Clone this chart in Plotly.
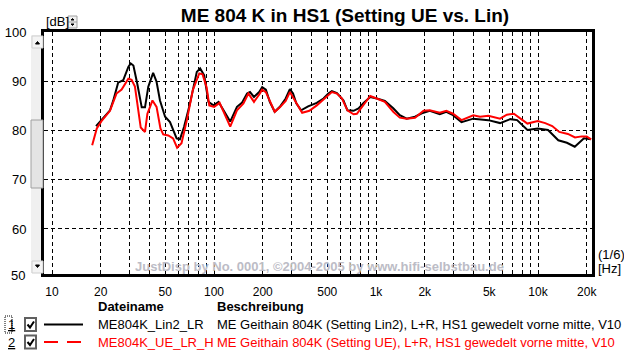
import plotly.graph_objects as go

# ---------------- data ----------------
black_freq = [18.7, 20.2, 22.8, 23.9, 25.6, 27.5, 29.6, 30.6, 31.8, 33.6, 35.8, 37.5, 39.3, 42.1, 44.2,
              46.4, 49.9, 53.5, 58.8, 61.6, 65.3, 71.1, 78.3, 82.1, 87.0, 92.4, 99.3, 106.7, 114.5,
              125.9, 138.6, 148.6, 160, 166.8, 176.5, 190.1, 198.3, 209, 221, 237, 255, 277, 294,
              307.5, 322, 345, 381, 431, 474, 508, 534, 574, 630, 666, 727, 780, 838, 921, 1011,
              1134, 1278, 1403, 1545, 1741, 1918, 2148, 2476, 2717, 2988, 3370, 3987, 4385, 4936,
              5832, 6749, 7432, 8602, 9959, 11528, 13343, 15077, 16860, 19220, 21200]
black_db = [80.9, 82.1, 84.1, 86.1, 89.7, 90.2, 92.9, 93.6, 93.2, 89.5, 84.7, 84.7, 88.9, 91.7, 89.9,
            86.1, 82.8, 81.7, 78.4, 78.2, 80.7, 85.5, 91.9, 92.6, 91.2, 85.8, 85.1, 85.8, 84.1,
            81.8, 84.8, 85.6, 87.5, 87.8, 86.8, 87.8, 88.8, 88.3, 85.8, 83.8, 84.8, 86.5, 88.4,
            87.5, 85.5, 84.1, 84.9, 85.6, 86.5, 87.5, 88.0, 87.6, 86.1, 84.1, 84.0, 84.5, 85.6, 86.8, 86.5,
            86.0, 84.5, 83.1, 82.4, 82.8, 83.5, 84.0, 83.3, 83.8, 83.1, 81.7, 82.4, 82.2, 82.1,
            81.5, 82.3, 82.1, 80.1, 80.4, 80.1, 78.0, 77.5, 76.7, 78.4, 78.2]

red_freq = [17.7, 18.9, 20.2, 22.8, 25.0, 26.9, 29.6, 31.0, 32.5, 34.1, 35.3, 37.5, 38.8, 40.3, 41.7,
            44.2, 46.7, 48.6, 52.2, 55.9, 59.2, 63.0, 68.0, 74.0, 81.1, 85.0, 90.0, 93.5, 100.2,
            108.3, 117.0, 125.9, 138.6, 152, 163, 176.5, 192, 198, 209, 237, 255, 277, 294, 322,
            350, 388, 431, 474, 534, 574, 617, 666, 727, 762, 838, 921, 1011, 1134, 1278, 1403,
            1545, 1741, 1965, 2148, 2476, 2717, 2988, 3370, 3987, 4385, 4936, 5832, 6420, 7100,
            7800, 8600, 9959, 11080, 12240, 13530, 15300, 16920, 18620, 19960, 21300]
red_db = [77.0, 80.4, 81.9, 84.0, 87.5, 88.3, 90.5, 90.3, 88.9, 84.5, 80.6, 79.7, 83.4, 84.8, 86.1,
          84.8, 80.4, 79.2, 79.0, 78.4, 76.5, 77.4, 82.1, 88.2, 91.6, 91.4, 88.8, 85.1, 84.8,
          85.6, 83.1, 80.8, 84.1, 85.5, 87.5, 85.8, 87.5, 88.3, 87.8, 83.8, 84.7, 86.0, 87.8, 85.5,
          83.6, 84.0, 85.1, 86.3, 87.8, 87.5, 86.5, 84.1, 83.3, 83.4, 85.1, 87.0, 86.5, 85.8, 83.8, 82.6,
          82.4, 82.6, 84.0, 84.1, 83.6, 84.0, 83.4, 82.1, 83.1, 82.8, 83.0, 82.4, 83.2, 83.4,
          82.4, 81.4, 81.9, 81.5, 80.9, 79.7, 79.3, 78.6, 78.8, 78.8, 78.2]

x_grid = [10, 20, 30, 40, 50, 60, 70, 80, 90, 100, 200, 300, 400, 500, 600, 700, 800, 900,
          1000, 2000, 3000, 4000, 5000, 6000, 7000, 8000, 9000, 10000, 20000]
x_labels = {10: "10", 20: "20", 50: "50", 100: "100", 200: "200", 500: "500",
            1000: "1k", 2000: "2k", 5000: "5k", 10000: "10k", 20000: "20k"}
y_ticks = [60, 70, 80, 90, 100]

title = "ME 804 K in HS1 (Setting UE vs. Lin)"
files = ["ME804K_Lin2_LR", "ME804K_UE_LR_H"]
descs = ["ME Geithain 804K (Setting Lin2), L+R, HS1 gewedelt vorne mitte, V10",
         "ME Geithain 804K (Setting UE), L+R, HS1 gewedelt vorne mitte, V10"]
colors = ["#000000", "#ff0000"]

W, H = 624, 353
L, R, T, B = 44, 32, 32, 79
PW, PH = W - L - R, H - T - B


def px(x):
    return (x - L) / PW


def py(y):
    return (H - B - y) / PH


FONT = "Liberation Sans, Arial, sans-serif"

fig = go.Figure()
fig.add_trace(go.Scatter(x=black_freq, y=black_db, mode="lines",
                         line=dict(color=colors[0], width=2), showlegend=False))
fig.add_trace(go.Scatter(x=red_freq, y=red_db, mode="lines",
                         line=dict(color=colors[1], width=2), showlegend=False))

fig.update_layout(
    width=W, height=H,
    margin=dict(l=L, r=R, t=T, b=B, autoexpand=False),
    paper_bgcolor="white", plot_bgcolor="white",
    font=dict(family=FONT, size=12, color="black"),
    title=dict(text="<b>" + title + "</b>", x=345 / W, y=1 - 15 / H, xref="container",
               yref="container", xanchor="center", yanchor="middle",
               font=dict(family=FONT, size=19, color="black")),
)
fig.update_xaxes(type="log", range=[0.9506, 4.3333], automargin=False,
                 tickvals=x_grid, ticktext=[x_labels.get(v, "") for v in x_grid],
                 showgrid=True, gridcolor="black", gridwidth=1, griddash="4px,3px",
                 showline=True, linecolor="black", linewidth=3, mirror=True,
                 ticks="", ticklabelstandoff=5, zeroline=False,
                 tickfont=dict(family=FONT, size=12, color="black"))
fig.update_yaxes(range=[50.85, 100], tickvals=y_ticks, ticktext=[str(v) for v in y_ticks],
                 automargin=False,
                 showgrid=True, gridcolor="black", gridwidth=1, griddash="4px,3px",
                 showline=True, linecolor="black", linewidth=3, mirror=True,
                 ticks="", ticklabelstandoff=12, zeroline=False,
                 tickfont=dict(family=FONT, size=13, color="black"))

shapes = []
ann = []

# label for 50 (bottom edge of scale)
ann.append(dict(x=px(27), y=py(275), xref="paper", yref="paper", text="50", showarrow=False,
                xanchor="right", yanchor="middle", font=dict(size=13, color="black")))

# scrollbar left of plot
shapes.append(dict(type="rect", xref="paper", yref="paper", x0=px(31), x1=px(43), y0=py(273), y1=py(35),
                   fillcolor="#f0f0f0", line=dict(width=0), layer="below"))
shapes.append(dict(type="rect", xref="paper", yref="paper", x0=px(31), x1=px(43), y0=py(188), y1=py(120),
                   fillcolor="#e4e4e4", line=dict(color="#a0a0a0", width=1)))
for (ya, yb) in [(36, 48), (261, 273)]:
    shapes.append(dict(type="rect", xref="paper", yref="paper", x0=px(32), x1=px(43), y0=py(yb), y1=py(ya),
                       fillcolor="#f4f4f4", line=dict(color="#d0d0d0", width=1)))
shapes.append(dict(type="path", xref="paper", yref="paper",
                   path=f"M {px(35.5)},{py(44)} L {px(39.5)},{py(44)} L {px(37.5)},{py(41.5)} Z",
                   fillcolor="black", line=dict(color="black", width=1)))
shapes.append(dict(type="path", xref="paper", yref="paper",
                   path=f"M {px(35.5)},{py(265)} L {px(39.5)},{py(265)} L {px(37.5)},{py(267.5)} Z",
                   fillcolor="black", line=dict(color="black", width=1)))

# [dB] label with spinner
ann.append(dict(x=px(44), y=py(22), xref="paper", yref="paper", text="[dB]", showarrow=False,
                xanchor="left", yanchor="middle", font=dict(size=13, color="black")))
shapes.append(dict(type="rect", xref="paper", yref="paper", x0=px(68), x1=px(77), y0=py(28), y1=py(16),
                   fillcolor="#f0f0f0", line=dict(color="#a0a0a0", width=1)))
shapes.append(dict(type="line", xref="paper", yref="paper", x0=px(68), x1=px(77), y0=py(22), y1=py(22),
                   line=dict(color="#a0a0a0", width=1)))
shapes.append(dict(type="path", xref="paper", yref="paper",
                   path=f"M {px(71)},{py(20)} L {px(74)},{py(20)} L {px(72.5)},{py(18.5)} Z",
                   fillcolor="black", line=dict(color="black", width=1)))
shapes.append(dict(type="path", xref="paper", yref="paper",
                   path=f"M {px(71)},{py(24)} L {px(74)},{py(24)} L {px(72.5)},{py(25.5)} Z",
                   fillcolor="black", line=dict(color="black", width=1)))

# resolution / unit labels
ann.append(dict(x=px(596), y=py(254), xref="paper", yref="paper", text="(1/6)", showarrow=False,
                xanchor="left", yanchor="middle", font=dict(size=13, color="black")))
ann.append(dict(x=px(596), y=py(268), xref="paper", yref="paper", text="[Hz]", showarrow=False,
                xanchor="left", yanchor="middle", font=dict(size=13, color="black")))

# watermark
ann.append(dict(x=px(133), y=py(266), xref="paper", yref="paper",
                text="<b>JustDisp by No. 0001, ©2004-2005 by www.hifi-selbstbau.de</b>", showarrow=False,
                xanchor="left", yanchor="middle", font=dict(size=13, color="#bcbcc6")))

# table legend
ann.append(dict(x=px(96), y=py(307), xref="paper", yref="paper", text="<b>Dateiname</b>", showarrow=False,
                xanchor="left", yanchor="middle", font=dict(size=13, color="black")))
ann.append(dict(x=px(215), y=py(307), xref="paper", yref="paper", text="<b>Beschreibung</b>", showarrow=False,
                xanchor="left", yanchor="middle", font=dict(size=13, color="black")))
rows_y = [324.5, 342]
for i, yy in enumerate(rows_y):
    c = colors[i]
    ann.append(dict(x=px(6), y=py(yy), xref="paper", yref="paper", text=f"<u>{i + 1}</u>", showarrow=False,
                    xanchor="left", yanchor="middle", font=dict(size=13, color="black")))
    ann.append(dict(x=px(96), y=py(yy), xref="paper", yref="paper", text=files[i], showarrow=False,
                    xanchor="left", yanchor="middle", font=dict(size=13, color=c)))
    ann.append(dict(x=px(215), y=py(yy), xref="paper", yref="paper", text=descs[i], showarrow=False,
                    xanchor="left", yanchor="middle", font=dict(size=13, color=c)))
    shapes.append(dict(type="rect", xref="paper", yref="paper", x0=px(25), x1=px(36),
                       y0=py(yy + 6.5), y1=py(yy - 6.5), fillcolor="white",
                       line=dict(color="#606060", width=2)))
    shapes.append(dict(type="path", xref="paper", yref="paper",
                       path=f"M {px(27.5)},{py(yy)} L {px(30)},{py(yy + 3)} L {px(34)},{py(yy - 3)}",
                       line=dict(color="black", width=2)))
    shapes.append(dict(type="line", xref="paper", yref="paper", x0=px(44), x1=px(83),
                       y0=py(yy), y1=py(yy),
                       line=dict(color=c, width=2, dash="solid" if i == 0 else "14px,9px")))
shapes.append(dict(type="rect", xref="paper", yref="paper", x0=px(5), x1=px(12),
                   y0=py(333), y1=py(316), line=dict(color="black", width=1, dash="1px,1px")))

fig.update_layout(shapes=shapes, annotations=ann)
fig.write_html("out.html")
